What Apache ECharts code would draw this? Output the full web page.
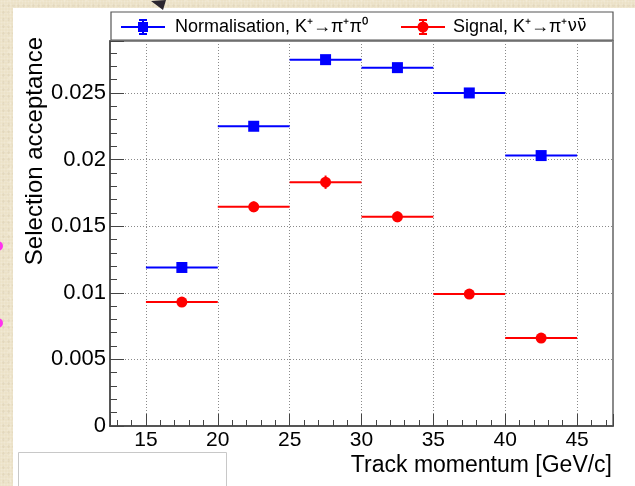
<!DOCTYPE html>
<html>
<head>
<meta charset="utf-8">
<script src="https://cdn.jsdelivr.net/npm/echarts@6/dist/echarts.min.js"></script>
<style>
  html, body { margin: 0; padding: 0; width: 635px; height: 486px; overflow: hidden; }
  body {
    background-color: #ece2c8;
    background-image:
      radial-gradient(rgba(255,255,255,0.22) 0.7px, transparent 1.2px),
      radial-gradient(rgba(150,130,90,0.10) 0.8px, transparent 1.5px),
      radial-gradient(rgba(255,250,235,0.25) 1px, transparent 2px);
    background-size: 3px 3px, 5px 7px, 11px 13px;
    background-position: 0 0, 1px 2px, 4px 6px;
  }
  #card { position: absolute; left: 13px; top: 8px; right: 0; bottom: 0; background: #fff; }
  #chart { position: absolute; left: 0; top: 0; width: 635px; height: 486px; }
</style>
</head>
<body>
<div id="card"></div>
<div id="chart"></div>
<script>
// Momentum bins [GeV/c]
const binLow  = [15, 20, 25, 30, 35, 40];
const binHigh = [20, 25, 30, 35, 40, 45];

// Normalisation sample acceptance and uncertainty
const normAcc = [0.0119, 0.0225, 0.0275, 0.0269, 0.0250, 0.0203];
const normErr = [0.0002, 0.0003, 0.0003, 0.0003, 0.0003, 0.0003];

// Signal sample acceptance and uncertainty
const sigAcc = [0.0093, 0.01645, 0.0183, 0.0157, 0.0099, 0.0066];
const sigErr = [0.0003, 0.0004, 0.0005, 0.0004, 0.0003, 0.0003];

const normName = 'Normalisation, K\u207A\u2192\u03C0\u207A\u03C0\u2070';
const sigName  = 'Signal, K\u207A\u2192\u03C0\u207A\u03BD\u03BD\u0304';

const FONT = '"Liberation Sans", Arial, Helvetica, sans-serif';
const BLUE = '#0000ff';
const RED = '#ff0000';

// Legend glyphs: horizontal bin bar, vertical error bar with caps, marker
const normIcon = 'path://M0 7H44V9H0Z M21 0H23V16H21Z M18 0H26V2H18Z M18 14H26V16H18Z M17 3H27V13H17Z';
const sigIcon = 'path://M0 7H44V9H0Z M21 0H23V16H21Z M18 0H26V2H18Z M18 14H26V16H18Z M16.5 8A5.5 5.5 0 1 1 27.5 8A5.5 5.5 0 1 1 16.5 8Z';

function barData(acc, err) {
  return binLow.map((lo, i) => [lo, binHigh[i], acc[i], err[i]]);
}
function pointData(acc) {
  return binLow.map((lo, i) => [(lo + binHigh[i]) / 2, acc[i]]);
}

// Horizontal bin-width bar plus vertical uncertainty bar
function renderErrorBar(params, api) {
  const lo = api.value(0), hi = api.value(1), y = api.value(2), e = api.value(3);
  const mid = (lo + hi) / 2;
  const a = api.coord([lo, y]);
  const b = api.coord([hi, y]);
  const t = api.coord([mid, y + e]);
  const d = api.coord([mid, y - e]);
  const color = api.visual('color');
  return {
    type: 'group',
    children: [
      { type: 'line', shape: { x1: a[0], y1: a[1], x2: b[0], y2: b[1] }, style: { stroke: color, lineWidth: 2 } },
      { type: 'line', shape: { x1: t[0], y1: t[1], x2: d[0], y2: d[1] }, style: { stroke: color, lineWidth: 2 } }
    ]
  };
}

const chart = echarts.init(document.getElementById('chart'), null, { renderer: 'canvas' });

const axisCommon = {
  axisLine: { show: true, onZero: false, lineStyle: { color: '#444', width: 1.5 } },
  splitLine: { show: true, lineStyle: { color: '#8a8a8a', width: 1, type: [1, 2] } },
  minorSplitLine: { show: false }
};

chart.setOption({
  animation: false,
  textStyle: { fontFamily: FONT },
  grid: {
    left: 110, right: 22, top: 41, bottom: 60,
    show: true, borderColor: '#8a8a8a', borderWidth: 2, backgroundColor: '#fff',
    containLabel: false, outerBoundsMode: 'none'
  },
  legend: [
    {
      data: [{ name: normName, icon: normIcon, itemStyle: { color: BLUE, borderWidth: 0 } }],
      left: 121, top: 18, padding: 0, itemWidth: 44, itemHeight: 16,
      selectedMode: false,
      textStyle: { fontFamily: FONT, fontSize: 18, color: '#000', padding: [0, 0, 0, 5] }
    },
    {
      data: [{ name: sigName, icon: sigIcon, itemStyle: { color: RED, borderWidth: 0 } }],
      left: 401, top: 18, padding: 0, itemWidth: 44, itemHeight: 16,
      selectedMode: false,
      // the antineutrino bar needs a font with proper mark positioning
      formatter: () => '{t|Signal, K\u207A\u2192\u03C0\u207A}{n|\u03BD\u03BD\u0304}',
      textStyle: {
        fontFamily: FONT, fontSize: 18, color: '#000', padding: [0, 0, 0, 3],
        rich: {
          t: { fontFamily: FONT, fontSize: 18, color: '#000' },
          n: { fontFamily: '"DejaVu Sans", sans-serif', fontSize: 17, color: '#000' }
        }
      }
    }
  ],
  xAxis: Object.assign({}, axisCommon, {
    type: 'value',
    min: 12.5, max: 47.5, splitNumber: 7,
    name: 'Track momentum [GeV/c]',
    nameLocation: 'end', nameGap: -1, nameMoveOverlap: false,
    nameTextStyle: { fontFamily: FONT, fontSize: 23, color: '#000', align: 'right', verticalAlign: 'top', padding: [28, 0, 0, 0] },
    axisTick: { show: true, inside: true, length: 12, lineStyle: { color: '#444', width: 1 } },
    minorTick: { show: true, splitNumber: 5, length: 6, lineStyle: { color: '#444', width: 1 } },
    axisLabel: { showMinLabel: false, showMaxLabel: false, margin: 4, fontFamily: FONT, fontSize: 21, color: '#000' }
  }),
  yAxis: Object.assign({}, axisCommon, {
    type: 'value',
    min: 0, max: 0.0289, splitNumber: 6,
    name: 'Selection acceptance',
    nameLocation: 'end', nameRotate: 90, nameGap: 4, nameMoveOverlap: false,
    nameTextStyle: { fontFamily: FONT, fontSize: 24, color: '#000', align: 'right', verticalAlign: 'bottom', padding: [0, 0, 63, 0] },
    axisTick: { show: true, inside: true, length: 14, lineStyle: { color: '#444', width: 1 } },
    minorTick: { show: true, splitNumber: 5, length: 7, lineStyle: { color: '#444', width: 1 } },
    axisLabel: { showMaxLabel: false, margin: 4, fontFamily: FONT, fontSize: 22, color: '#000' }
  }),
  graphic: [
    { type: 'rect', z: 0, shape: { x: 111, y: 12, width: 502, height: 28 }, style: { fill: '#fff', stroke: '#555', lineWidth: 1.2 } },
    { type: 'rect', z: 0, shape: { x: 18.5, y: 452.5, width: 208, height: 40 }, style: { fill: '#fff', stroke: '#c8c8c8', lineWidth: 1 } },
    { type: 'polygon', z: 10, shape: { points: [[151, 1], [166, 0], [163, 10]] }, style: { fill: '#2b2730' } },
    { type: 'circle', z: 10, shape: { cx: -2, cy: 246, r: 5 }, style: { fill: '#ff33ee' } },
    { type: 'circle', z: 10, shape: { cx: -2, cy: 323, r: 5 }, style: { fill: '#ff33ee' } }
  ],
  series: [
    {
      name: normName, type: 'custom', renderItem: renderErrorBar,
      data: barData(normAcc, normErr), encode: { x: [0, 1], y: 2 },
      itemStyle: { color: BLUE }, z: 3
    },
    {
      name: sigName, type: 'custom', renderItem: renderErrorBar,
      data: barData(sigAcc, sigErr), encode: { x: [0, 1], y: 2 },
      itemStyle: { color: RED }, z: 3
    },
    {
      name: normName, type: 'scatter', symbol: 'rect', symbolSize: 11,
      data: pointData(normAcc), itemStyle: { color: BLUE, opacity: 1 }, z: 4
    },
    {
      name: sigName, type: 'scatter', symbol: 'circle', symbolSize: 11,
      data: pointData(sigAcc), itemStyle: { color: RED, opacity: 1 }, z: 4
    }
  ]
});
</script>
</body>
</html>
